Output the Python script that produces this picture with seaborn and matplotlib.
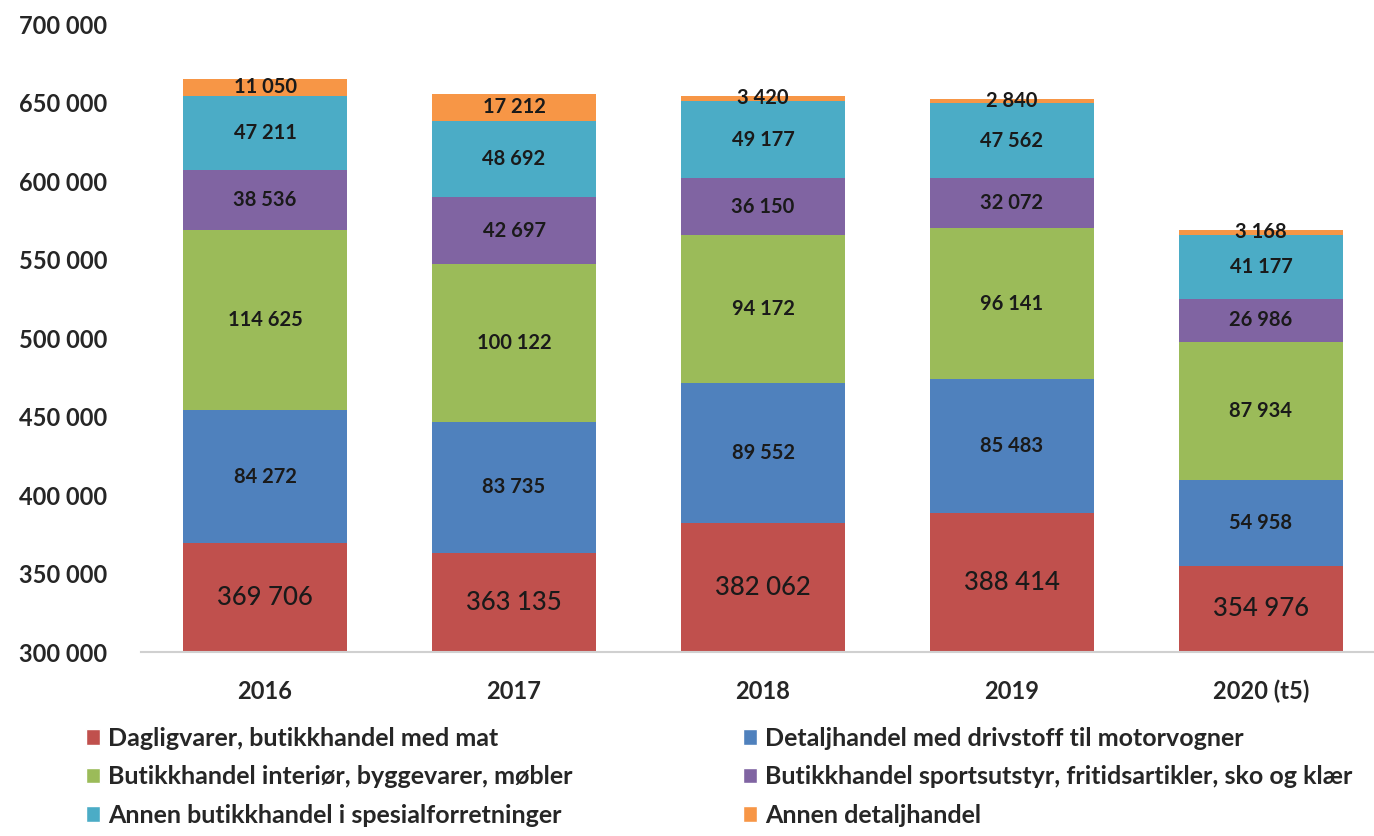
import numpy as np
import pandas as pd
import seaborn as sns
import matplotlib.pyplot as plt
from matplotlib.patches import Patch

years = ["2016", "2017", "2018", "2019", "2020 (t5)"]
series = [
    "Dagligvarer, butikkhandel med mat",
    "Detaljhandel med drivstoff til motorvogner",
    "Butikkhandel interiør, byggevarer, møbler",
    "Butikkhandel sportsutstyr, fritidsartikler, sko og klær",
    "Annen butikkhandel i spesialforretninger",
    "Annen detaljhandel",
]
dagligvarer = [369706, 363135, 382062, 388414, 354976]
drivstoff = [84272, 83735, 89552, 85483, 54958]
interior = [114625, 100122, 94172, 96141, 87934]
sport = [38536, 42697, 36150, 32072, 26986]
spesial = [47211, 48692, 49177, 47562, 41177]
annen = [11050, 17212, 3420, 2840, 3168]
colors = ["#C0504D", "#4F81BD", "#9BBB59", "#8064A2", "#4BACC6", "#F79646"]

values = np.array([dagligvarer, drivstoff, interior, sport, spesial, annen])
cum = values.cumsum(axis=0)
ymin, ymax = 300000, 700000

sns.set_style("white")
plt.rcParams["font.family"] = ["Lato", "DejaVu Sans"]

fig = plt.figure(figsize=(13.74, 8.36), dpi=100)
ax = fig.add_axes([0.1023, 0.220, 0.8977, 0.751])

# draw cumulative totals from the top down so each layer covers the one before
for i in reversed(range(len(series))):
    df = pd.DataFrame({"year": years, "total": cum[i]})
    sns.barplot(data=df, x="year", y="total", color=colors[i], width=0.66,
                saturation=1, linewidth=0, ax=ax)

# value labels
for i in range(len(series)):
    for j in range(len(years)):
        top = cum[i, j]
        bottom = top - values[i, j]
        lbl = f"{values[i, j]:,}".replace(",", " ")
        if i == 0:
            ax.text(j, (max(bottom, ymin) + top) / 2, lbl,
                    ha="center", va="center", fontsize=18.5, fontweight="medium",
                    color="#1a1a1a")
        else:
            ax.text(j, (bottom + top) / 2, lbl,
                    ha="center", va="center", fontsize=14.5, fontweight="bold", color="#1a1a1a")

ax.set_ylim(ymin, ymax)
ax.set_xlim(-0.5, 4.454)
ticks = list(range(ymin, ymax + 1, 50000))
ax.set_yticks(ticks)
ax.set_yticklabels([f"{v:,}".replace(",", " ") for v in ticks],
                   fontsize=17, fontweight="bold")
ax.set_xticks(range(len(years)))
ax.set_xticklabels(years, fontsize=17, fontweight="bold")
ax.tick_params(axis="x", length=0, pad=20)
ax.tick_params(axis="y", length=0, pad=24)
ax.set_xlabel("")
ax.set_ylabel("")
for s in ["top", "right", "left"]:
    ax.spines[s].set_visible(False)
ax.spines["bottom"].set_color("#d0d0d0")
ax.spines["bottom"].set_linewidth(1.5)

order = [0, 2, 4, 1, 3, 5]
handles = [Patch(facecolor=colors[k], label=series[k]) for k in order]
fig.legend(handles=handles, loc="upper left", bbox_to_anchor=(0.0465, 0.1575), ncol=2,
           frameon=False, handlelength=0.55, handleheight=0.55,
           handletextpad=0.3, columnspacing=6.85, labelspacing=0.62,
           prop={"weight": "bold", "size": 18})

fig.savefig("out.png", dpi=100)
